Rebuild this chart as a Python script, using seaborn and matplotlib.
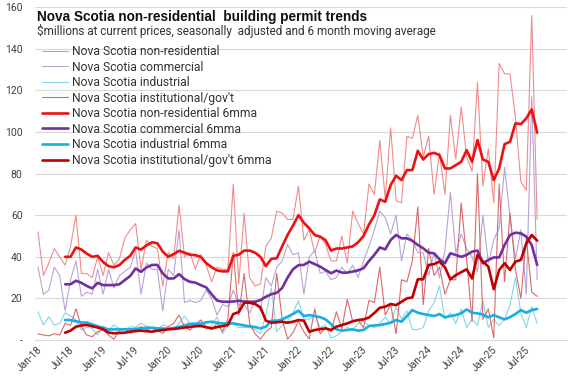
import matplotlib
matplotlib.use("Agg")
import matplotlib.pyplot as plt
import seaborn as sns
import pandas as pd
from matplotlib.transforms import ScaledTranslation

# ---------------- data ----------------
tick_labels = ["Jan-18", "Jul-18", "Jan-19", "Jul-19", "Jan-20", "Jul-20", "Jan-21", "Jul-21",
               "Jan-22", "Jul-22", "Jan-23", "Jul-23", "Jan-24", "Jul-24", "Jan-25", "Jul-25"]

months = list(range(93))          # Jan-18 .. Sep-25
ma_months = list(range(5, 93))    # Jun-18 .. Sep-25

nonres = [52, 31, 37, 44, 40, 36, 45, 60, 32, 32,
          30, 40, 31, 42, 36, 39, 49, 53, 56, 34,
          48, 45, 44, 26, 42, 39, 65, 40, 42, 34,
          41, 36, 28, 35, 34, 34, 75, 27, 61, 30,
          26, 27, 45, 49, 62, 61, 58, 58, 74, 48,
          53, 42, 50, 46, 38, 38, 50, 37, 62, 56,
          51, 75, 70, 96, 68, 102, 67, 66, 98, 97,
          108, 88, 98, 70, 90, 70, 108, 87, 112, 88,
          81, 124, 74, 92, 66, 133, 128, 128, 107, 76,
          72, 156, 58]

commercial = [35, 22, 24, 35, 31, 14, 29, 38, 21, 23,
              22, 34, 22, 34, 25, 31, 33, 35, 43, 22,
              37, 34, 34, 14, 34, 31, 53, 18, 19, 18,
              19, 24, 20, 12, 17, 16, 24, 17, 17, 13,
              19, 14, 30, 26, 35, 38, 46, 41, 42, 22,
              40, 43, 32, 33, 29, 30, 35, 32, 36, 30,
              38, 45, 53, 62, 59, 51, 60, 38, 51, 48,
              42, 42, 31, 42, 30, 43, 71, 42, 51, 44,
              40, 33, 60, 37, 48, 54, 83, 59, 39, 53,
              22, 117, 29]

industrial = [13.6, 7.2, 11.2, 7.2, 8, 13.1, 11.5, 9.6, 4.8, 6.1,
              5.6, 2.4, 6.7, 4.8, 7.2, 5.6, 5.1, 6.4, 6.1, 8,
              6.7, 5.6, 5.1, 7.2, 6.4, 4.8, 8, 11.5, 8, 6.7,
              9.6, 5, 7, 11, 3, 7, 8, 6, 6, 6,
              5, 3, 12, 25, 4, 7, 9, 13, 19, 10,
              10, 12, 6, 7, 1, 2, 4, 6, 5, 8,
              9, 7, 6, 8, 11, 8, 16, 10, 14, 5,
              5, 6, 14, 18, 26, 10, 13, 8, 15, 6,
              10, 7, 19, 6, 10, 7, 10, 17, 30, 13,
              6, 16, 8]

institutional = [3, 2.4, 2, 3, 2.4, 8, 7, 15, 6.4, 2.4,
                 1.6, 4, 4.8, 2.4, 0.3, 4.5, 5.6, 3.2, 4.8, 6.4,
                 5, 5.6, 4.5, 3.2, 6.4, 8, 12, 6.4, 4.8, 7.2,
                 9.6, 6.4, 5, 8, 4, 10, 42, 12, 32, 8,
                 3, 0.4, 4, 6, 32, 10, 0.5, 3.5, 9, 4,
                 0.5, 15, 3, 6, 4, 13.6, 5.3, 19.6, 9, 9.6,
                 5.8, 19, 18, 35, 12, 17, 3, 29, 28, 38,
                 64, 17, 44, 31, 35, 22, 29, 29, 66, 39,
                 9, 80, 10, 15, 1, 75, 28, 61, 34, 20,
                 49, 23, 21]

nonres_6mma = [40, 40, 44.5, 43.5, 41.5, 40, 40.5, 37.5, 35.5, 35,
               36, 38.5, 40.5, 44.5, 43.5, 45.5, 47, 46.5, 42.5, 40,
               41.3, 42.9, 42, 41, 40.8, 40, 37, 35, 33.5, 33,
               33, 40.5, 41, 43, 43, 42, 40, 35.5, 39, 39.3,
               45, 50.5, 55, 60, 56.4, 53.7, 50.5, 49.7, 48, 43,
               44, 44, 44.5, 45, 47, 50, 55.5, 60, 67.6, 66.5,
               74.5, 79, 76.9, 81.7, 81.7, 91, 86.8, 89.4, 90, 88.9,
               82.5, 82.5, 84.1, 85.7, 91.3, 85.7, 96.1, 86.8, 85.7, 76.9,
               82.5, 94.2, 95.3, 104.2, 103.8, 106.6, 110.9, 99.7]

commercial_6mma = [26.8, 26.8, 28.5, 27.5, 26, 24.8, 27.5, 26.4, 26.4, 26.4,
                   26.8, 28.8, 30.8, 34.4, 32.8, 34.9, 36.1, 36.1, 32, 29.6,
                   29.6, 31.7, 29.3, 28, 27.6, 26.4, 25.3, 22, 19, 18.4,
                   18.4, 18.5, 18.9, 18.5, 18.4, 18.4, 19.2, 20.8, 22, 22.7,
                   25, 30, 34, 36, 36.1, 37.7, 36.5, 35.3, 33.7, 32.1,
                   33.4, 32.4, 32.4, 32.9, 33.5, 34.5, 38, 41, 44.5, 43.6,
                   48.1, 50.5, 48.9, 48.9, 47.7, 45.7, 44.1, 42, 41.7, 38.8,
                   36.9, 41.7, 40.9, 40, 40.9, 42.5, 43, 36.9, 38.5, 39.7,
                   39.7, 45.7, 50.5, 51.6, 51.3, 49.7, 45.7, 36.1]

industrial_6mma = [9.6, 9.6, 9, 8.4, 8.4, 7.5, 6.6, 5.8, 5.1, 5.1,
                   5.1, 5.1, 5.1, 5.3, 5.6, 5.9, 5.9, 5.6, 5.5, 5.4,
                   5.8, 6.3, 7, 7.7, 7.9, 7.8, 8.5, 8.8, 8.3, 8,
                   8, 8, 7.5, 7, 6.6, 6.2, 5.6, 6.4, 9.3, 9.3,
                   9.9, 11.2, 12.5, 14.1, 11.5, 12, 11.5, 11, 9.9, 7.7,
                   5.1, 4.5, 4.8, 5.1, 4.5, 4.8, 6.7, 7, 7.2, 7.7,
                   8.3, 9.6, 8.8, 11.5, 14.4, 13.1, 12.5, 12, 11.5, 12.5,
                   10.9, 11.5, 12, 12.8, 14.7, 13.1, 12.8, 12.3, 10.9, 12,
                   10.9, 9.9, 11, 12.5, 14.4, 13.1, 14.4, 14.9]

institutional_6mma = [3.5, 4.5, 6.4, 7, 7.2, 6.6, 6, 5.2, 3.6, 3.2,
                      3.4, 3.5, 4, 4.3, 4.5, 4.2, 4, 4.5, 4.8, 5.1,
                      5.3, 5.6, 6, 6.3, 6.6, 6.7, 6.2, 5.6, 6.2, 6.7,
                      7.2, 12.5, 13.4, 17.9, 17.9, 17.3, 15.7, 9.3, 8.3, 8.5,
                      8.8, 8.3, 8.8, 9.6, 9.3, 4, 4.8, 5.2, 5.6, 4.8,
                      6.4, 7.2, 8, 9, 9.6, 9.9, 10.8, 13, 15.5, 16,
                      17.3, 16.8, 18.4, 20, 20.5, 29.2, 29.2, 36.1, 36.5, 37.7,
                      35, 29.2, 31.2, 32.6, 34, 29.6, 40.9, 37.7, 35.3, 24.4,
                      33.7, 36.9, 33.7, 37.7, 38.5, 46.5, 50.5, 47.8]

series = [
    ("Nova Scotia non-residential", months, nonres, "#F08C8C", 0.8),
    ("Nova Scotia commercial", months, commercial, "#B8A3D6", 0.8),
    ("Nova Scotia industrial", months, industrial, "#86D3EE", 0.8),
    ("Nova Scotia institutional/gov't", months, institutional, "#D66A6A", 0.8),
    ("Nova Scotia non-residential 6mma", ma_months, nonres_6mma, "#EE1111", 1.9),
    ("Nova Scotia commercial 6mma", ma_months, commercial_6mma, "#7030A0", 1.9),
    ("Nova Scotia industrial 6mma", ma_months, industrial_6mma, "#1AAEE2", 1.9),
    ("Nova Scotia institutional/gov't 6mma", ma_months, institutional_6mma, "#C00000", 1.9),
]

# ---------------- style ----------------
sns.set_theme(style="white")
plt.rcParams['font.family'] = ['Roboto', 'DejaVu Sans']

W, H = 577, 385
fig = plt.figure(figsize=(W / 100, H / 100), dpi=100)
ax = fig.add_axes([35 / W, 45 / H, 532 / W, (340 - 7.3) / H])

for name, xs, ys, col, lw in series:
    df = pd.DataFrame({"month": xs, "value": ys})
    sns.lineplot(data=df, x="month", y="value", ax=ax, color=col, linewidth=lw,
                 label=name, sort=False, estimator=None)

ax.set_xlim(-0.55, 97.5)
ax.set_ylim(0, 160)
ax.set_yticks(range(0, 161, 20))
ax.set_yticklabels(["-"] + [str(v) for v in range(20, 161, 20)])
ax.yaxis.grid(True, color="#D9D9D9", linewidth=0.8)
ax.xaxis.grid(False)
ax.set_axisbelow(True)
for s in ["left", "right", "top"]:
    ax.spines[s].set_visible(False)
ax.spines["bottom"].set_color("#D9D9D9")
ax.spines["bottom"].set_linewidth(0.8)
ax.tick_params(axis="y", length=0, pad=9, labelsize=7.5, labelcolor="#404040")
ax.tick_params(axis="x", length=0, pad=6, labelsize=7.3, labelcolor="#404040")
ax.set_xticks(range(0, 91, 6))
ax.set_xticklabels(tick_labels, rotation=45, ha="right", va="center", rotation_mode="anchor")
offset = ScaledTranslation(2 / 100, 0, fig.dpi_scale_trans)
for lab in ax.get_xticklabels():
    lab.set_transform(lab.get_transform() + offset)
ax.set_xlabel("")
ax.set_ylabel("")

handles, labels = ax.get_legend_handles_labels()
leg = ax.legend(handles, labels, loc="upper left", bbox_to_anchor=(42 / W, 1 - 45 / H),
                bbox_transform=fig.transFigure, frameon=False, fontsize=8.7,
                handlelength=2.15, handletextpad=0.33, labelspacing=0.21,
                borderpad=0, borderaxespad=0)
for t in leg.get_texts():
    t.set_color("#333333")

fig.text(37 / W, 1 - 21.5 / H, "Nova Scotia non-residential  building permit trends",
         fontsize=9.8, fontweight="bold", color="#111111", va="baseline", ha="left",
         family=["Liberation Sans Narrow", "Liberation Sans", "DejaVu Sans"])
fig.text(37 / W, 1 - 35.5 / H,
         "\\$millions at current prices, seasonally  adjusted and 6 month moving average",
         fontsize=8.5, color="#333333", va="baseline", ha="left")

fig.savefig("out.png", dpi=100)
